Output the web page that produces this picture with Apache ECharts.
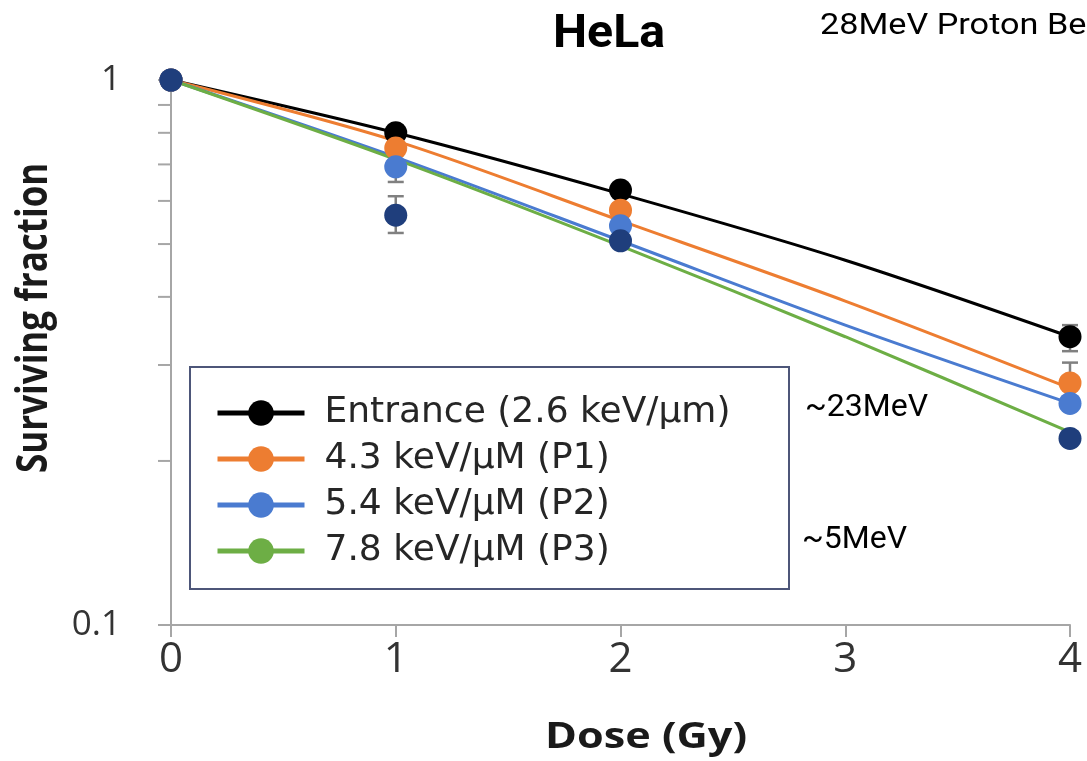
<!DOCTYPE html>
<html>
<head>
<meta charset="utf-8">
<script src="https://cdn.jsdelivr.net/npm/echarts@6/dist/echarts.min.js"></script>
<style>
  html, body { margin: 0; padding: 0; background: #fff; }
  #chart { width: 1087px; height: 761px; }
</style>
</head>
<body>
<div id="chart"></div>
<script>
// measured points (dose in Gy)
var doses = [0, 1, 2, 4];
var entrancePts = [1, 0.80, 0.628, 0.338];
var p1Pts = [1, 0.75, 0.577, 0.278];
var p2Pts = [1, 0.693, 0.54, 0.255];
var p3Pts = [1, 0.565, 0.507, 0.22];

// fitted curves
var fitDoses = [0, 1, 2, 3, 4];
var entranceFit = [1, 0.80, 0.618, 0.467, 0.338];
var p1Fit = [1, 0.773, 0.552, 0.393, 0.272];
var p2Fit = [1, 0.722, 0.507, 0.355, 0.255];
var p3Fit = [1, 0.715, 0.496, 0.338, 0.226];

// error bars: dose, low, high
var errDose = [1, 2, 4, 4, 1, 1];
var errLow = [0.78, 0.61, 0.318, 0.255, 0.65, 0.524];
var errHigh = [0.826, 0.648, 0.355, 0.303, 0.73, 0.612];

var seriesNames = ['Entrance (2.6 keV/µm)', '4.3 keV/µM (P1)', '5.4 keV/µM (P2)', '7.8 keV/µM (P3)'];
var minorTicks = [0.2, 0.3, 0.4, 0.5, 0.6, 0.7, 0.8, 0.9];

var lineColors = ['#000000', '#ED7D31', '#4A7BD0', '#6DAE45'];
var pointColors = ['#000000', '#ED7D31', '#4A7BD0', '#1F3E7C'];
var axisGray = '#A6A6A6';
var font = 'Open Sans';

function pairs(xs, ys) {
    var out = [];
    for (var i = 0; i < xs.length; i++) out.push([xs[i], ys[i]]);
    return out;
}

var fits = [entranceFit, p1Fit, p2Fit, p3Fit];
var pts = [entrancePts, p1Pts, p2Pts, p3Pts];

var series = [];
fits.forEach(function (f, i) {
    series.push({
        name: seriesNames[i],
        type: 'line',
        smooth: 0.3,
        symbol: 'circle',
        showSymbol: false,
        z: 2,
        color: lineColors[i],
        lineStyle: { width: 3, color: lineColors[i] },
        itemStyle: { color: lineColors[i] },
        data: pairs(fitDoses, f)
    });
});

var errData = [];
for (var i = 0; i < errDose.length; i++) errData.push([errDose[i], errLow[i], errHigh[i]]);

series.push({
    name: 'err',
    type: 'custom',
    z: 3,
    data: errData,
    renderItem: function (params, api) {
        var lo = api.coord([api.value(0), api.value(1)]);
        var hi = api.coord([api.value(0), api.value(2)]);
        var w = 8;
        var st = { stroke: '#808080', lineWidth: 2.5 };
        return {
            type: 'group',
            children: [
                { type: 'line', shape: { x1: lo[0], y1: lo[1], x2: hi[0], y2: hi[1] }, style: st },
                { type: 'line', shape: { x1: lo[0] - w, y1: lo[1], x2: lo[0] + w, y2: lo[1] }, style: st },
                { type: 'line', shape: { x1: hi[0] - w, y1: hi[1], x2: hi[0] + w, y2: hi[1] }, style: st }
            ]
        };
    }
});

// log-axis minor ticks at 0.2 ... 0.9
series.push({
    name: 'minor',
    type: 'custom',
    z: 3,
    clip: false,
    data: minorTicks.map(function (v) { return [0, v]; }),
    renderItem: function (params, api) {
        var p = api.coord([api.value(0), api.value(1)]);
        return {
            type: 'line',
            shape: { x1: p[0] - 13, y1: p[1], x2: p[0], y2: p[1] },
            style: { stroke: axisGray, lineWidth: 2 }
        };
    }
});

pts.forEach(function (p, i) {
    series.push({
        name: 'pts' + i,
        type: 'scatter',
        symbol: 'circle',
        symbolSize: 23,
        z: 4,
        itemStyle: { color: pointColors[i], opacity: 1 },
        data: pairs(doses, p)
    });
});

var myChart = echarts.init(document.getElementById('chart'));
var option = {
    animation: false,
    backgroundColor: '#ffffff',
    grid: { left: 171, right: 17, top: 80, bottom: 136, outerBoundsMode: 'none' },
    xAxis: {
        type: 'value',
        min: 0,
        max: 4,
        interval: 1,
        axisLine: { show: true, lineStyle: { color: axisGray, width: 2 } },
        axisTick: { show: true, length: 12, lineStyle: { color: axisGray, width: 2 } },
        splitLine: { show: false },
        axisLabel: { fontFamily: font, fontSize: 42, color: '#333', margin: 14, lineHeight: 42 }
    },
    yAxis: {
        type: 'log',
        logBase: 10,
        min: 0.1,
        max: 1,
        axisLine: { show: true, lineStyle: { color: axisGray, width: 2 } },
        axisTick: { show: true, length: 13, lineStyle: { color: axisGray, width: 2 } },
        splitLine: { show: false },
        axisLabel: { fontFamily: font, fontSize: 35, color: '#333', margin: 50 }
    },
    legend: {
        data: seriesNames,
        orient: 'vertical',
        left: 215,
        top: 395,
        padding: 0,
        z: 6,
        itemWidth: 87,
        itemHeight: 32,
        itemGap: 10,
        lineStyle: { width: 5 },
        textStyle: { fontFamily: 'DejaVu Sans', fontSize: 36, lineHeight: 34, color: '#262626', padding: [0, 0, 0, 15] }
    },
    graphic: [
        {
            type: 'rect', z: 5, left: 189, top: 366,
            shape: { width: 599, height: 222 },
            style: { fill: '#fff', stroke: '#4D5679', lineWidth: 2 }
        },
        {
            type: 'text', x: 553, y: 12, scaleX: 1.05, z: 6,
            style: { text: 'HeLa', font: 'bold 46px Roboto', fill: '#000' }
        },
        {
            type: 'text', x: 820, y: 12, scaleX: 1.18, z: 6,
            style: { text: '28MeV Proton Beam', font: '29px Roboto', fill: '#000' }
        },
        {
            type: 'text', x: 805, y: 392, z: 6,
            style: { text: '~23MeV', font: '32px Roboto', fill: '#000' }
        },
        {
            type: 'text', x: 802, y: 524, z: 6,
            style: { text: '~5MeV', font: '32px Roboto', fill: '#000' }
        },
        {
            type: 'text', x: 545, y: 720, scaleX: 1.2, z: 6,
            style: { text: 'Dose (Gy)', font: 'bold 36px "Open Sans"', fill: '#1a1a1a' }
        },
        {
            type: 'text', x: 13, y: 473, rotation: Math.PI / 2, scaleY: 1.25, z: 6,
            style: { text: 'Surviving fraction', font: 'bold 35px "Open Sans"', fill: '#1a1a1a' }
        }
    ],
    series: series
};
myChart.setOption(option);
</script>
</body>
</html>
